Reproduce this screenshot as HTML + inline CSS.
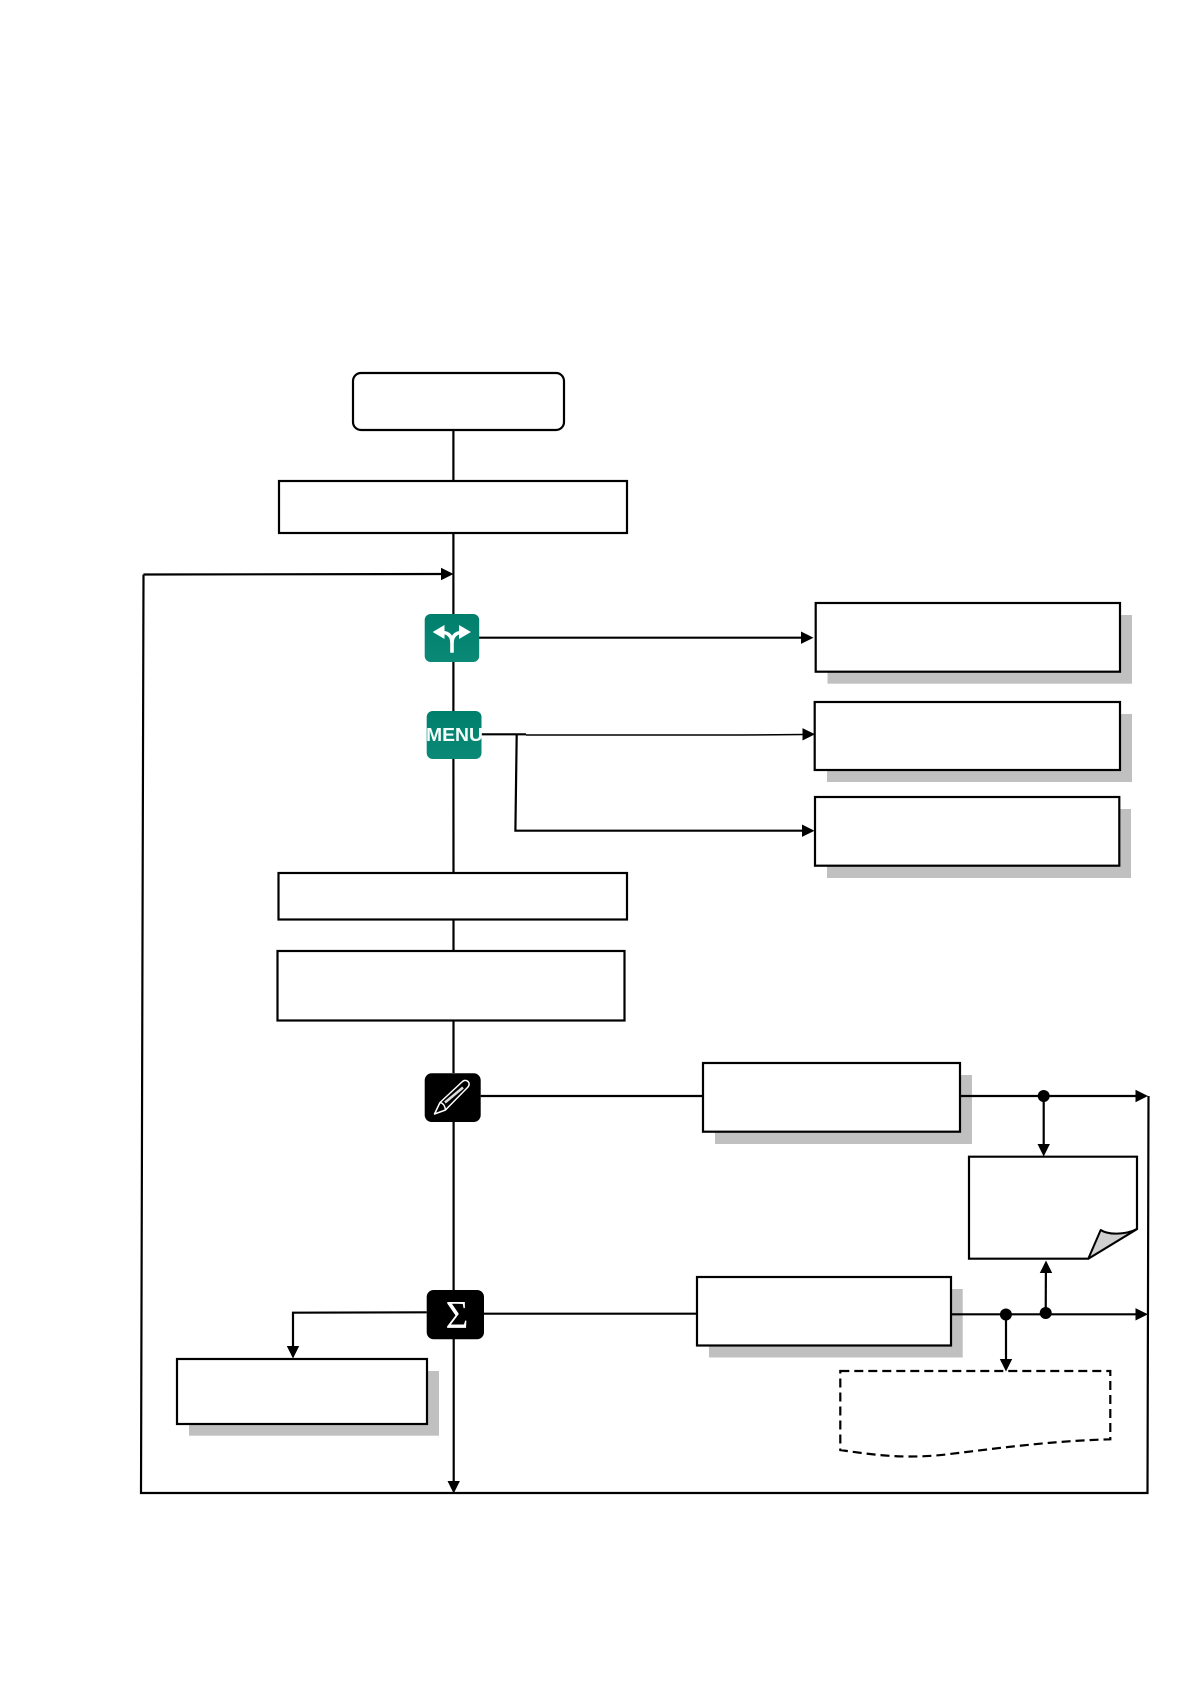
<!DOCTYPE html>
<html>
<head>
<meta charset="utf-8">
<style>
html,body{margin:0;padding:0;background:#fff;}
svg{display:block;}
</style>
</head>
<body>
<svg width="1191" height="1684" viewBox="0 0 1191 1684" xmlns="http://www.w3.org/2000/svg">
<defs>
<linearGradient id="g" x1="0" y1="0" x2="0" y2="1"><stop offset="0" stop-color="#007f6c"/><stop offset="1" stop-color="#0a8a76"/></linearGradient>
</defs>
<rect width="1191" height="1684" fill="#fff"/>

<!-- shadows -->
<g fill="#c0c0c0">
<rect x="827.500" y="615" width="304.500" height="68.700"/>
<rect x="827" y="714" width="305" height="68"/>
<rect x="827" y="809" width="304" height="69"/>
<rect x="715" y="1075" width="257" height="69"/>
<rect x="709" y="1289" width="253.700" height="68.500"/>
<rect x="189" y="1371" width="250" height="64.700"/>
</g>

<!-- connectors -->
<g fill="none" stroke="#000" stroke-width="2.200">
<path d="M453.400 430V481M453.400 533V614M453.400 662V711M453.400 759L453.500 873M453.500 919V951M453.500 1021V1073M453.600 1122V1290M453.700 1339V1482"/>
<path d="M143.500 574.500L443 574"/>
<path d="M143.500 574.500L141 1493H1147.500L1148.500 1096"/>
<path d="M479 637.700H803"/>
<path d="M481.500 734.300H526"/>
<path d="M526 735H740L804 734.500" stroke-width="1.500"/>
<path d="M516.700 734.300L515.400 830.700H803"/>
<path d="M480.700 1096H703"/>
<path d="M960 1096H1137"/>
<path d="M1043.700 1096V1146"/>
<path d="M484 1313.700H697"/>
<path d="M951 1314.300H1137"/>
<path d="M1045.700 1314L1045.900 1271"/>
<path d="M1006 1314.500V1361"/>
<path d="M426.700 1312.300L293 1312.700V1348"/>
</g>

<!-- arrowheads -->
<g fill="#000">
<path d="M453.500 574L441 567.800V580.200Z"/>
<path d="M813.500 637.700L801 631.500V643.900Z"/>
<path d="M815 734.300L802.500 728.100V740.500Z"/>
<path d="M814.500 830.700L802 824.500V836.900Z"/>
<path d="M1148 1096L1135.500 1089.800V1102.200Z"/>
<path d="M1148 1314.300L1135.500 1308.100V1320.500Z"/>
<path d="M1043.700 1156.500L1037.500 1144H1049.900Z"/>
<path d="M1046 1260.500L1039.800 1273H1052.200Z"/>
<path d="M1006 1371.500L999.800 1359H1012.200Z"/>
<path d="M293 1358.500L286.800 1346H299.200Z"/>
<path d="M453.700 1493.500L447.500 1481H459.900Z"/>
<circle cx="1043.700" cy="1096" r="6"/>
<circle cx="1005.900" cy="1314.500" r="6"/>
<circle cx="1045.700" cy="1313" r="6"/>
</g>

<!-- boxes -->
<g fill="#fff" stroke="#000" stroke-width="2.200">
<rect x="353" y="373" width="211" height="57" rx="8"/>
<rect x="279" y="481" width="348" height="52"/>
<rect x="815.700" y="603" width="304.300" height="68.700"/>
<rect x="814.700" y="702" width="305.300" height="68"/>
<rect x="815" y="797" width="304.300" height="68.700"/>
<rect x="278.500" y="873" width="348.500" height="46.500"/>
<rect x="277.500" y="951" width="347" height="69.500"/>
<rect x="703" y="1063" width="257" height="68.700"/>
<rect x="697" y="1277" width="254" height="68.500"/>
<rect x="177" y="1359" width="250" height="65"/>
</g>

<!-- note with folded corner -->
<path d="M969 1156.700H1137V1229L1088.300 1258.700H969Z" fill="#fff" stroke="#000" stroke-width="2.200"/>
<path d="M1088.300 1258.700L1100.700 1230C1108 1235 1125 1235 1137 1229Z" fill="#d0d0d0" stroke="#000" stroke-width="2" stroke-linejoin="round"/>

<!-- dashed document -->
<path d="M840.300 1371H1110.300V1439.300C1050 1441 1000 1448 950 1454C910 1459 880 1456 840.300 1450Z" fill="none" stroke="#000" stroke-width="2.200" stroke-dasharray="9 5"/>

<!-- icon: fork -->
<rect x="424.700" y="614" width="54.500" height="48" rx="6" fill="url(#g)"/>
<g fill="#fff">
<path d="M432.700 632L444.500 625V639Z"/>
<path d="M471 632L459 625V639Z"/>
</g>
<path d="M452 652.700V643C452 637 449 632.500 442 632.500M452 643C452 637 455 632.500 462 632.500" fill="none" stroke="#fff" stroke-width="3.600"/>

<!-- icon: menu -->
<rect x="426.700" y="711" width="54.800" height="48" rx="6" fill="url(#g)"/>
<text x="426" y="741" font-family="'Liberation Sans',sans-serif" font-weight="700" font-size="18" fill="#f4fbf9" textLength="57" lengthAdjust="spacingAndGlyphs">MENU</text>

<!-- icon: pencil -->
<rect x="424.700" y="1073.300" width="56" height="48.700" rx="7" fill="#000"/>
<g fill="none" stroke="#fff" stroke-width="1.500" stroke-linejoin="round">
<path d="M434.500 1114L440 1102.500L462.500 1081.500C465 1079.500 468 1080.500 469 1083C469.500 1085 468.500 1086.500 467.500 1087.500L445.500 1110Z"/>
<path d="M440 1102.500C443 1103 445 1106 445.500 1110"/>
<path d="M445 1102.500L463 1087.500" stroke-width="2.500" stroke="#ddd"/>
</g>

<!-- icon: sigma -->
<rect x="426.700" y="1290" width="57.300" height="49.300" rx="7" fill="#000"/>
<text x="457" y="1327.500" text-anchor="middle" font-family="'Liberation Serif','DejaVu Serif',serif" font-size="39" fill="#fff">Σ</text>
</svg>
</body>
</html>
